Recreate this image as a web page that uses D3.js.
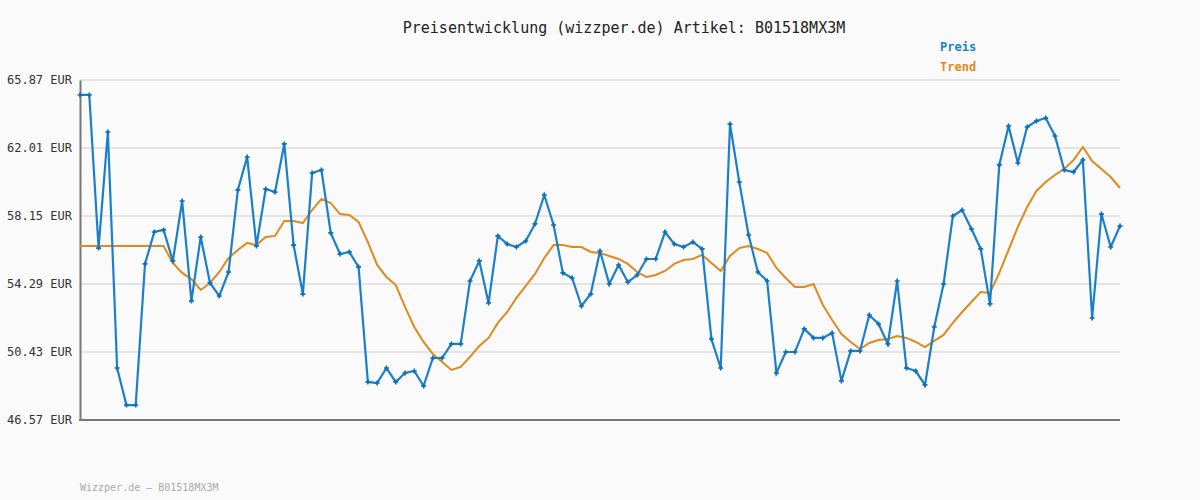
<!DOCTYPE html>
<html><head><meta charset="utf-8">
<script src="https://cdn.jsdelivr.net/npm/d3@7"></script>
<style>body{margin:0;background:#fafafa}</style></head>
<body><svg id="c" width="1200" height="500"></svg>
<script>
const yTicks=[46.57,50.43,54.29,58.15,62.01,65.87];
const price=[65.02,65.02,56.33,62.92,49.52,47.42,47.42,55.43,57.24,57.36,
55.60,59.00,53.33,56.96,54.35,53.61,54.97,59.63,61.50,56.45,
59.68,59.51,62.24,56.50,53.72,60.59,60.76,57.19,55.99,56.11,
55.26,48.73,48.67,49.52,48.73,49.24,49.35,48.50,50.09,50.09,
50.89,50.89,54.46,55.60,53.21,57.02,56.56,56.39,56.73,57.70,
59.34,57.64,54.92,54.63,53.04,53.72,56.16,54.29,55.37,54.40,
54.80,55.71,55.71,57.24,56.56,56.39,56.67,56.28,51.17,49.52,
63.37,60.08,57.07,54.97,54.46,49.24,50.43,50.43,51.74,51.23,
51.23,51.51,48.79,50.49,50.49,52.53,52.02,50.89,54.46,49.52,
49.35,48.56,51.85,54.29,58.15,58.49,57.41,56.28,53.16,61.05,
63.26,61.16,63.20,63.54,63.71,62.69,60.76,60.65,61.33,52.36,
58.26,56.39,57.58];
const trend=[56.45,56.45,56.45,56.45,56.45,56.45,56.45,56.45,56.45,56.45,
55.48,54.92,54.57,53.95,54.35,54.97,55.77,56.22,56.62,56.50,
56.96,57.02,57.87,57.87,57.75,58.49,59.12,58.89,58.26,58.21,
57.81,56.67,55.37,54.69,54.23,52.99,51.85,51.00,50.32,49.86,
49.41,49.58,50.15,50.77,51.23,52.08,52.70,53.50,54.18,54.86,
55.77,56.50,56.50,56.39,56.39,56.11,56.05,55.88,55.71,55.43,
54.97,54.69,54.80,55.03,55.43,55.65,55.71,55.94,55.48,55.03,
55.88,56.33,56.45,56.28,56.05,55.20,54.63,54.12,54.12,54.29,
53.10,52.25,51.45,51.00,50.60,50.94,51.11,51.17,51.34,51.23,
51.00,50.71,51.06,51.40,52.08,52.70,53.27,53.84,53.78,54.92,
56.22,57.53,58.66,59.57,60.08,60.48,60.82,61.33,62.07,61.27,
60.82,60.36,59.74];
const svg=d3.select("#c");
const font="'DejaVu Sans Mono', monospace";
svg.append("rect").attr("width",1200).attr("height",500).attr("fill","#fafafa");
const x=d3.scaleLinear().domain([0,price.length-1]).range([80,1120]);
const y=d3.scaleLinear().domain([46.57,65.87]).range([420,80]);
svg.append("g").selectAll("line").data(yTicks.slice(1)).join("line")
 .attr("x1",80).attr("x2",1120).attr("y1",d=>y(d)).attr("y2",d=>y(d))
 .attr("stroke","#e4e4e4").attr("stroke-width",2);
const ya=svg.append("g").attr("transform","translate(80,0)")
 .call(d3.axisLeft(y).tickValues(yTicks).tickSize(0).tickPadding(8).tickFormat(d=>d.toFixed(2)+" EUR"));
ya.select(".domain").attr("stroke","#777").attr("stroke-width",2);
ya.selectAll("text").attr("font-family",font).attr("font-size",12).attr("fill","#333");
svg.append("line").attr("x1",79).attr("x2",1120).attr("y1",420).attr("y2",420).attr("stroke","#777").attr("stroke-width",2);
const line=d3.line().x((d,i)=>x(i)).y(d=>y(d));
svg.append("path").datum(trend).attr("d",line).attr("fill","none").attr("stroke","#e08a1e").attr("stroke-width",2);
svg.append("path").datum(price).attr("d",line).attr("fill","none").attr("stroke","#1b80c8").attr("stroke-width",2.2);
svg.append("g").selectAll("path").data(price).join("path")
 .attr("transform",(d,i)=>`translate(${x(i)},${y(d)})`)
 .attr("d",d3.symbol(d3.symbolCross,14)).attr("fill","#0d6fb8");
svg.append("text").attr("x",624).attr("y",33).attr("text-anchor","middle").attr("font-family",font).attr("font-size",15).attr("fill","#222").text("Preisentwicklung (wizzper.de) Artikel: B01518MX3M");
svg.append("text").attr("x",940).attr("y",51).attr("font-family",font).attr("font-size",12).attr("font-weight","bold").attr("fill","#1b80c8").text("Preis");
svg.append("text").attr("x",940).attr("y",71).attr("font-family",font).attr("font-size",12).attr("font-weight","bold").attr("fill","#e08a1e").text("Trend");
svg.append("text").attr("x",80).attr("y",491).attr("font-family",font).attr("font-size",10).attr("fill","#aaa").text("Wizzper.de – B01518MX3M");
</script></body></html>
